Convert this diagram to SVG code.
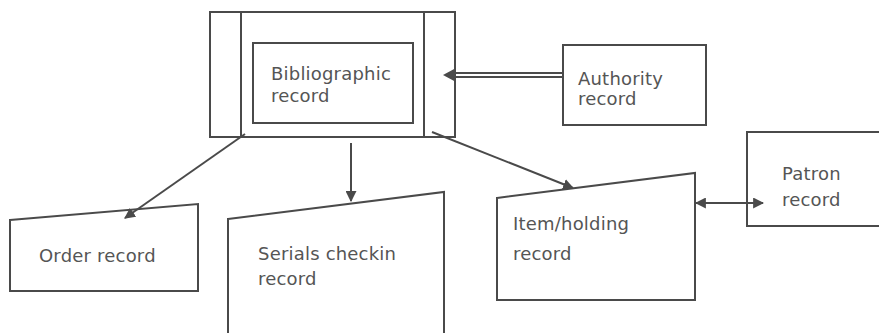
<svg xmlns="http://www.w3.org/2000/svg" width="879" height="333" viewBox="0 0 879 333">
<defs>
<style>
.box{fill:#fff;stroke:#4a4a4a;stroke-width:2}
.ln{stroke:#4a4a4a;stroke-width:2;fill:none}
.t{font-family:"DejaVu Sans",sans-serif;font-size:18px;fill:#555;letter-spacing:0.2px}
</style>
<marker id="ah" viewBox="0 0 10 10" refX="9" refY="5" markerWidth="5.5" markerHeight="5.5" orient="auto-start-reverse" markerUnits="strokeWidth">
<path d="M0,0 L10,5 L0,10 z" fill="#4a4a4a"/>
</marker>
</defs>
<rect width="879" height="333" fill="#fff"/>
<g id="bibliographic">
<rect class="box" x="210" y="12" width="245" height="125"/>
<line class="ln" x1="241" y1="12" x2="241" y2="137"/>
<line class="ln" x1="424" y1="12" x2="424" y2="137"/>
<rect class="box" x="253" y="43" width="160" height="80"/>
<text class="t" x="271" y="80">Bibliographic</text>
<text class="t" x="271" y="102">record</text>
</g>
<g id="authority">
<rect class="box" x="563" y="45" width="143" height="80"/>
<text class="t" x="578" y="85">Authority</text>
<text class="t" x="578" y="105">record</text>
</g>
<g id="order">
<polygon class="box" points="10,220 198,204 198,291 10,291"/>
<text class="t" x="39" y="262">Order record</text>
</g>
<g id="serials">
<polygon class="box" points="228,219 444,192 444,340 228,340"/>
<text class="t" x="258" y="260">Serials checkin</text>
<text class="t" x="258" y="285">record</text>
</g>
<g id="item">
<polygon class="box" points="497,198 695,173 695,300 497,300"/>
<text class="t" x="513" y="230">Item/holding</text>
<text class="t" x="513" y="260">record</text>
</g>
<g id="patron">
<rect class="box" x="747" y="132" width="140" height="94"/>
<text class="t" x="782" y="180">Patron</text>
<text class="t" x="782" y="206">record</text>
</g>
<g id="connectors">
<line class="ln" x1="563" y1="73" x2="452" y2="73"/>
<line class="ln" x1="563" y1="77" x2="452" y2="77"/>
<path d="M443,75 L456,68 L456,82 z" fill="#4a4a4a"/>
<line class="ln" x1="245" y1="134" x2="125" y2="218" marker-end="url(#ah)"/>
<line class="ln" x1="351" y1="143" x2="351" y2="201" marker-end="url(#ah)"/>
<line class="ln" x1="432" y1="132" x2="573" y2="188" marker-end="url(#ah)"/>
<line class="ln" x1="696" y1="203" x2="763" y2="203" marker-start="url(#ah)" marker-end="url(#ah)"/>
</g>
</svg>
